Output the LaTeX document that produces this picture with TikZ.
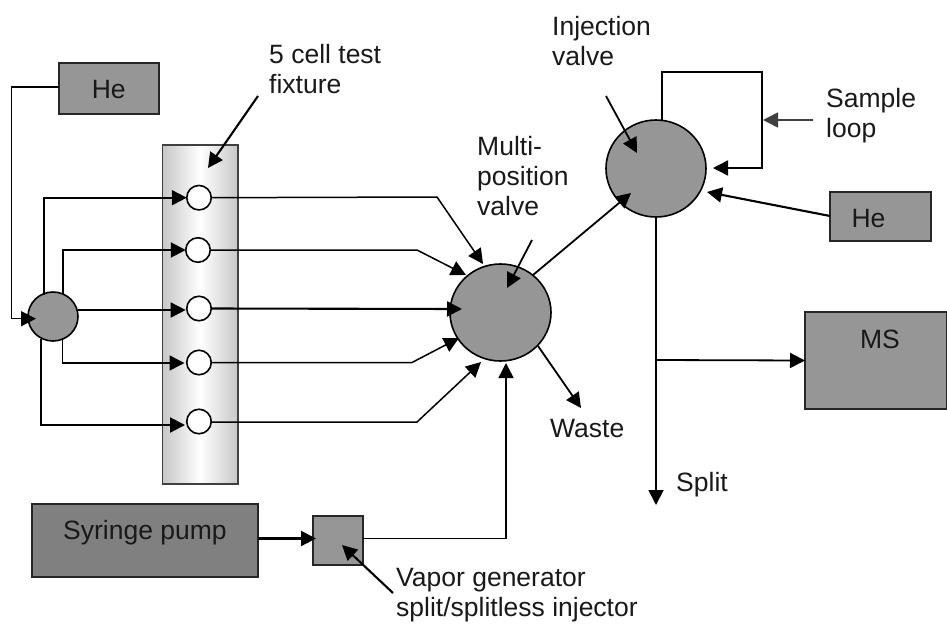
\documentclass[tikz,border=0pt]{standalone}
\usepackage{fontspec}
\setmainfont{Liberation Sans}
\usetikzlibrary{arrows.meta,shapes.geometric}
\definecolor{midgray}{HTML}{969696}
\definecolor{darkbox}{HTML}{808080}
\tikzset{
  x=1pt,y=-1pt,
  box/.style={rectangle,draw=black!85,line width=1.5pt,fill=midgray,inner sep=0pt,outer sep=0pt},
  valve/.style={ellipse,draw=black,line width=1.6pt,fill=midgray,inner sep=0pt,outer sep=0pt},
  cell/.style={circle,draw=black,line width=1.6pt,fill=white,inner sep=0pt,outer sep=0pt,minimum size=24.5pt},
  lab/.style={inner sep=0pt,align=left,anchor=north west,font=\fontsize{26.5}{30}\selectfont,text=black!90},
  btxt/.style={inner sep=0pt,anchor=base,font=\fontsize{26.5}{30}\selectfont,text=black!90},
  flow/.style={draw=black,line width=1.5pt,-{Triangle[length=15pt,width=15pt]}},
  flowb/.style={flow,line width=2.1pt},
}
\begin{document}
\begin{tikzpicture}
\useasboundingbox (0,0) rectangle (947,624);
% column
\node[rectangle,draw=black!75,line width=1.5pt,left color=black!22,right color=black!22,middle color=white,minimum width=75.5pt,minimum height=339pt,inner sep=0pt] (col) at (200.25,314.5) {};
% boxes
\node[box,minimum width=100pt,minimum height=51pt] (he1) at (109,88.5) {};
\node[box,minimum width=101pt,minimum height=49pt] (he2) at (880.5,216.5) {};
\node[box,minimum width=142pt,minimum height=97pt] (ms) at (876,360.5) {};
\node[box,fill=darkbox,minimum width=226pt,minimum height=73pt] (pump) at (145,540.5) {};
\node[box,minimum width=50pt,minimum height=49pt] (vap) at (338,540.5) {};
% box texts
\node[btxt] (the1) at (108.7,98.7) {He};
\node[btxt] (the2) at (868.5,227) {He};
\node[btxt] (tms) at (880,348) {MS};
\node[btxt] (tpump) at (145,539.3) {Syringe pump};
% valves
\node[valve,minimum width=50pt,minimum height=49pt] (man) at (53,316.5) {};
\node[valve,minimum width=101pt,minimum height=97pt] (mv) at (500.5,312.5) {};
\node[valve,minimum width=100pt,minimum height=97pt] (iv) at (656,168.5) {};
% labels
\node[lab] (l1) at (269,43.7) {5 cell test\\fixture};
\node[lab] (l2) at (477,135.7) {Multi-\\position\\valve};
\node[lab] (l3) at (552,15.7) {Injection\\valve};
\node[lab] (l4) at (826,87.7) {Sample\\loop};
\node[lab] (l5) at (550,418.7) {Waste};
\node[lab] (l6) at (676,471.7) {Split};
\node[lab] (l7) at (396,567.7) {Vapor generator\\split/splitless injector};
% cells
\node[cell] (c1) at (199,197.7) {};
\node[cell] (c2) at (198,250) {};
\node[cell] (c3) at (199,308.5) {};
\node[cell] (c4) at (199,362.5) {};
\node[cell] (c5) at (199,421.5) {};
% free ends
\coordinate (t1) at (208,168);
\coordinate (s1) at (258,96);
\coordinate (t2) at (507,288);
\coordinate (s2) at (532,240);
\coordinate (t3) at (637,153);
\coordinate (s3) at (606,96);
\coordinate (t4) at (342,545);
\coordinate (s4) at (393,593);
\coordinate (sp) at (656,505);
\coordinate (wa) at (581,408);
\coordinate (slab) at (813,120);
% feed
\draw[flow] (he1.west |- 0,87) -- (11.7,87) -- (11.7,318.7) -- (36,318.7);
\draw[flowb] (43.7,295) -- (43.7,197.7) -- (c1.west);
\draw[flowb] (62.7,295) -- (62.7,250) -- (c2.west);
\draw[flow] (man.east |- 0,310) -- (185.7,310);
\draw[flow] (62.7,338) -- (62.7,363) -- (184.5,363);
\draw[flowb] (40.7,339) -- (40.7,425) -- (185,425);
% outlets
\draw[flow] (c1.east) -- (437,197) -- (483,264);
\draw[flow] (c2.east) -- (417,250) -- (466,275);
\draw[flowb] (c3.east) -- (462,309);
\draw[flow] (c4.east) -- (412,362.5) -- (459,338);
\draw[flow] (c5.east |- 0,422) -- (417,422) -- (481,362);
% others
\draw[flow,line width=1.8pt] (533,275) -- (631,193);
\draw[flow,line width=1.8pt] (538,346) -- (wa);
\draw[flow] (vap.east |- 0,538.5) -- (506,538.5) -- (506,363);
\draw[flowb] (pump.east |- 0,538.5) -- (316,538.5);
\draw[flowb] (s4) -- (t4);
\draw[flowb] (s1) -- (t1);
\draw[flow,line width=1.8pt] (s2) -- (t2);
\draw[flow,line width=1.8pt] (s3) -- (t3);
\draw[flow] (662,120) -- (662,72) -- (762,72) -- (762,168) -- (713,168);
\draw[flow,draw=black!75] (slab) -- (763,120);
\draw[flowb] (he2.west |- 0,216) -- (707,192);
\draw[flow,line width=1.8pt] (iv.south) -- (sp);
\draw[flow,line width=1.8pt] (656,360) -- (ms.west);
\end{tikzpicture}
\end{document}
